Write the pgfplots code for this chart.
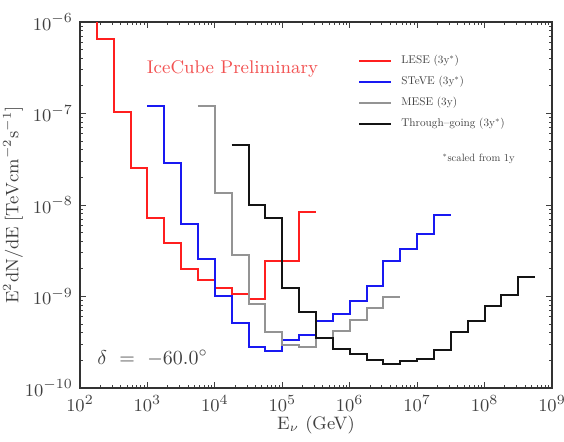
\documentclass[border=0pt]{standalone}
\usepackage{graphicx}
\usepackage{pgfplots}
\pgfplotsset{compat=1.18}

\definecolor{lese}{rgb}{1.0,0.12,0.12}
\definecolor{steve}{rgb}{0.1,0.1,0.95}
\definecolor{mese}{rgb}{0.58,0.58,0.58}
\definecolor{thru}{rgb}{0.08,0.08,0.08}
\definecolor{prelim}{rgb}{0.95,0.32,0.32}
\definecolor{txt}{rgb}{0.25,0.25,0.25}

% small text set at the 10pt design size, then scaled down
\newcommand{\smalltext}[2]{\scalebox{#1}{\fontsize{10}{12}\selectfont #2}}

\begin{document}
\begin{tikzpicture}
\begin{axis}[
  at={(0,0)}, anchor=south west,
  scale only axis, width=236pt, height=183pt,
  xmode=log, ymode=log,
  xmin=1e2, xmax=1e9, ymin=1e-10, ymax=1e-6,
  xtick={1e2,1e3,1e4,1e5,1e6,1e7,1e8,1e9},
  ytick={1e-10,1e-9,1e-8,1e-7,1e-6},
  tick align=inside,
  major tick length=3.2pt, minor tick length=1.6pt,
  every tick/.style={black!75, line width=0.5pt},
  axis line style={black!80, line width=0.8pt},
  tick label style={font=\fontsize{9.5}{11}\selectfont, text=txt},
  xlabel={$\mathrm{E}_{\nu}$ (GeV)},
  ylabel={$\mathrm{E^2 dN/dE\;[TeV cm^{-2} s^{-1}]}$},
  every axis x label/.style={at={(rel axis cs:0.5,-0.1)}, anchor=center, inner sep=0pt,
    font=\fontsize{9}{11}\selectfont, text=txt},
  every axis y label/.style={at={(rel axis cs:-0.142,0.5)}, rotate=90, anchor=center, inner sep=0pt,
    font=\fontsize{9}{11}\selectfont, text=txt},
  legend cell align=left,
  legend style={draw=none, fill=none, at={(rel axis cs:0.589,0.912)}, anchor=north west,
    inner sep=0pt, row sep=4.5pt, text=txt,
    nodes={inner sep=0pt, text height=4.5pt, text depth=1.5pt},
    /tikz/every odd column/.append style={column sep=4.5pt}},
  legend image code/.code={\draw[#1] (0pt,0pt) -- (16pt,0pt);},
  const plot mark left,
  every axis plot/.append style={line width=1pt, line join=miter},
]

% LESE
\addplot[lese] coordinates {
 (1e2,3e-6) (1.7783e2,6.5e-7) (3.1623e2,1.03e-7) (5.6234e2,2.56e-8)
 (1e3,7.26e-9) (1.7783e3,3.87e-9) (3.1623e3,1.98e-9) (5.6234e3,1.51e-9)
 (1e4,1.23e-9) (1.7783e4,1.06e-9) (3.1623e4,9.4e-10) (5.6234e4,2.43e-9)
 (1e5,2.43e-9) (1.7783e5,8.45e-9) (3.1623e5,8.45e-9)
};
\addlegendentry{\smalltext{0.56}{LESE (3y$^{*}$)}}

% STeVE
\addplot[steve] coordinates {
 (1e3,1.22e-7) (1.7783e3,2.90e-8) (3.1623e3,6.19e-9) (5.6234e3,2.57e-9)
 (1e4,1.02e-9) (1.7783e4,5.10e-10) (3.1623e4,2.81e-10) (5.6234e4,2.54e-10)
 (1e5,3.35e-10) (1.7783e5,3.80e-10) (3.1623e5,5.40e-10) (5.6234e5,6.38e-10)
 (1e6,8.93e-10) (1.7783e6,1.30e-9) (3.1623e6,2.44e-9) (5.6234e6,3.28e-9)
 (1e7,4.79e-9) (1.7783e7,7.71e-9) (3.1623e7,7.71e-9)
};
\addlegendentry{\smalltext{0.56}{STeVE (3y$^{*}$)}}

% MESE
\addplot[mese] coordinates {
 (5.6234e3,1.22e-7) (1e4,1.35e-8) (1.7783e4,2.84e-9) (3.1623e4,8.28e-10)
 (5.6234e4,4.09e-10) (1e5,2.95e-10) (1.7783e5,2.83e-10) (3.1623e5,3.49e-10)
 (5.6234e5,4.20e-10) (1e6,5.53e-10) (1.7783e6,7.43e-10) (3.1623e6,1.00e-9)
 (5.6234e6,1.00e-9)
};
\addlegendentry{\smalltext{0.56}{MESE (3y)}}

% Through-going
\addplot[thru] coordinates {
 (1.7783e4,4.56e-8) (3.1623e4,9.93e-9) (5.6234e4,7.16e-9) (1e5,1.23e-9)
 (1.7783e5,6.82e-10) (3.1623e5,3.49e-10) (5.6234e5,2.65e-10) (1e6,2.35e-10)
 (1.7783e6,2.02e-10) (3.1623e6,1.82e-10) (5.6234e6,1.96e-10) (1e7,2.07e-10)
 (1.7783e7,2.60e-10) (3.1623e7,4.12e-10) (5.6234e7,5.45e-10) (1e8,7.87e-10)
 (1.7783e8,1.04e-9) (3.1623e8,1.62e-9) (5.6234e8,1.62e-9)
};
\addlegendentry{\smalltext{0.56}{Through--going (3y$^{*}$)}}

\node[text=prelim, font=\fontsize{9.2}{11}\selectfont, anchor=center]
  at (rel axis cs:0.323,0.872) {IceCube Preliminary};
\node[text=txt, anchor=east, inner sep=0pt]
  at (rel axis cs:0.922,0.626) {\smalltext{0.53}{$^{*}$scaled from 1y}};
\node[text=txt, font=\fontsize{10.3}{12}\selectfont, anchor=west, inner sep=0pt]
  at (rel axis cs:0.036,0.082) {$\delta\ =\ -60.0^{\circ}$};
\end{axis}
\pgfresetboundingbox
\path (-40pt,-26.5pt) rectangle (242pt,194pt);
\end{tikzpicture}
\end{document}
